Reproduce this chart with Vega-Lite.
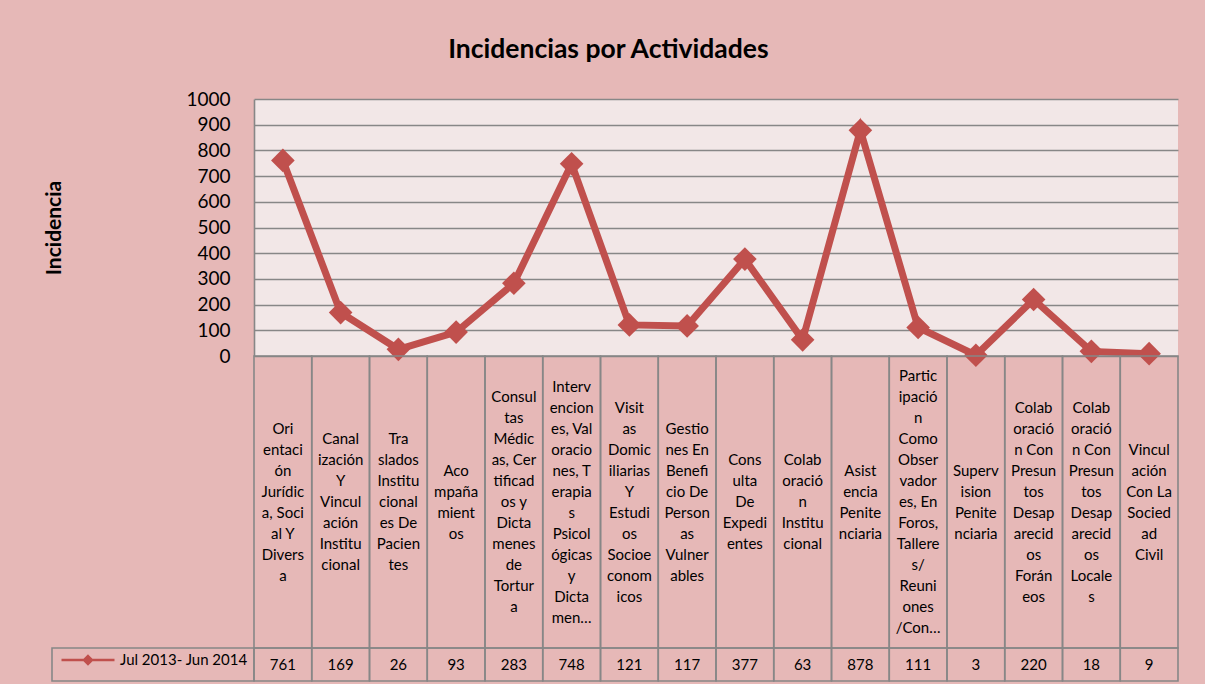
{
  "$schema": "https://vega.github.io/schema/vega-lite/v6.json",
  "background": "#E6B8B7",
  "padding": {"left": 43, "top": 36, "right": 27, "bottom": 4},
  "title": {"text": "Incidencias por Actividades", "font": "Lato", "fontSize": 26.5, "fontWeight": "bold", "color": "#000000", "anchor": "middle", "offset": 27, "dx": -3},
  "config": {
    "view": {"stroke": null},
    "font": "Lato"
  },
  "datasets": {
    "act": [
      {"actividad": "Orientación Jurídica, Social Y Diversa", "lineas": ["Ori", "entaci", "ón", "Jurídic", "a, Soci", "al Y", "Divers", "a"], "renglones": 8, "incidencia": 761, "serie": "Jul 2013- Jun 2014"},
      {"actividad": "Canalización Y Vinculación Institucional", "lineas": ["Canal", "ización", "Y", "Vincul", "ación", "Institu", "cional"], "renglones": 7, "incidencia": 169, "serie": "Jul 2013- Jun 2014"},
      {"actividad": "Traslados Institucionales De Pacientes", "lineas": ["Tra", "slados", "Institu", "cional", "es De", "Pacien", "tes"], "renglones": 7, "incidencia": 26, "serie": "Jul 2013- Jun 2014"},
      {"actividad": "Acompañamientos", "lineas": ["Aco", "mpaña", "mient", "os"], "renglones": 4, "incidencia": 93, "serie": "Jul 2013- Jun 2014"},
      {"actividad": "Consultas Médicas, Certificados y Dictamenes de Tortura", "lineas": ["Consul", "tas", "Médic", "as, Cer", "tificad", "os y", "Dicta", "menes", "de", "Tortur", "a"], "renglones": 11, "incidencia": 283, "serie": "Jul 2013- Jun 2014"},
      {"actividad": "Intervenciones, Valoraciones, Terapias Psicológicas y Dictamen…", "lineas": ["Interv", "encion", "es, Val", "oracio", "nes, T", "erapia", "s", "Psicol", "ógicas", "y", "Dicta", "men…"], "renglones": 12, "incidencia": 748, "serie": "Jul 2013- Jun 2014"},
      {"actividad": "Visitas Domiciliarias Y Estudios Socioeconomicos", "lineas": ["Visit", "as", "Domic", "iliarias", "Y", "Estudi", "os", "Socioe", "conom", "icos"], "renglones": 10, "incidencia": 121, "serie": "Jul 2013- Jun 2014"},
      {"actividad": "Gestiones En Beneficio De Personas Vulnerables", "lineas": ["Gestio", "nes En", "Benefi", "cio De", "Person", "as", "Vulner", "ables"], "renglones": 8, "incidencia": 117, "serie": "Jul 2013- Jun 2014"},
      {"actividad": "Consulta De Expedientes", "lineas": ["Cons", "ulta", "De", "Expedi", "entes"], "renglones": 5, "incidencia": 377, "serie": "Jul 2013- Jun 2014"},
      {"actividad": "Colaboración Institucional", "lineas": ["Colab", "oració", "n", "Institu", "cional"], "renglones": 5, "incidencia": 63, "serie": "Jul 2013- Jun 2014"},
      {"actividad": "Asistencia Penitenciaria", "lineas": ["Asist", "encia", "Penite", "nciaria"], "renglones": 4, "incidencia": 878, "serie": "Jul 2013- Jun 2014"},
      {"actividad": "Participación Como Observadores, En Foros, Talleres/ Reuniones /Con…", "lineas": ["Partic", "ipació", "n", "Como", "Obser", "vador", "es, En", "Foros,", "Tallere", "s/", "Reuni", "ones", "/Con…"], "renglones": 13, "incidencia": 111, "serie": "Jul 2013- Jun 2014"},
      {"actividad": "Supervision Penitenciaria", "lineas": ["Superv", "ision", "Penite", "nciaria"], "renglones": 4, "incidencia": 3, "serie": "Jul 2013- Jun 2014"},
      {"actividad": "Colaboración Con Presuntos Desaparecidos Foráneos", "lineas": ["Colab", "oració", "n Con", "Presun", "tos", "Desap", "arecid", "os", "Forán", "eos"], "renglones": 10, "incidencia": 220, "serie": "Jul 2013- Jun 2014"},
      {"actividad": "Colaboración Con Presuntos Desaparecidos Locales", "lineas": ["Colab", "oració", "n Con", "Presun", "tos", "Desap", "arecid", "os", "Locale", "s"], "renglones": 10, "incidencia": 18, "serie": "Jul 2013- Jun 2014"},
      {"actividad": "Vinculación Con La Sociedad Civil", "lineas": ["Vincul", "ación", "Con La", "Socied", "ad", "Civil"], "renglones": 6, "incidencia": 9, "serie": "Jul 2013- Jun 2014"}
    ]
  },
  "columns": 2,
  "spacing": 0,
  "bounds": "flush",
  "concat": [
    {
      "width": 202, "height": 257,
      "data": {"values": []},
      "mark": "rect"
    },
    {
      "width": 924, "height": 257,
      "data": {"name": "act"},
      "view": {"fill": "#F2E7E7", "stroke": null},
      "encoding": {
        "x": {"field": "actividad", "type": "nominal", "sort": null, "axis": null, "scale": {"type": "point", "padding": 0.5}},
        "y": {
          "field": "incidencia", "type": "quantitative",
          "scale": {"domain": [0, 1000], "nice": false, "zero": true},
          "axis": {
            "values": [0, 100, 200, 300, 400, 500, 600, 700, 800, 900, 1000],
            "format": "d",
            "title": "Incidencia",
            "titleFont": "Lato", "titleFontSize": 21, "titleFontWeight": "bold", "titleColor": "#000000",
            "titlePadding": 121,
            "labelFont": "Lato", "labelFontSize": 19, "labelColor": "#000000", "labelPadding": 24, "labelFlush": false,
            "ticks": false, "tickSize": 0,
            "grid": true, "gridColor": "#878787", "gridWidth": 1.6, "gridOpacity": 1,
            "domain": true, "domainColor": "#878787", "domainWidth": 1.6
          }
        }
      },
      "layer": [
        {
          "mark": {"type": "line", "strokeWidth": 7, "color": "#C0504D"},
          "encoding": {
            "color": {
              "field": "serie", "type": "nominal",
              "scale": {"range": ["#C0504D"]},
              "legend": {
                "title": null, "orient": "none", "legendX": 8, "legendY": 533,
                "padding": 0,
                "symbolType": "M-1,0H1M0,-0.15L0.15,0L0,0.15L-0.15,0Z",
                "symbolSize": 2809, "symbolStrokeWidth": 2.5, "symbolFillColor": "#C0504D", "symbolStrokeColor": "#C0504D",
                "labelFont": "Lato", "labelFontSize": 15, "labelColor": "#000000", "labelOffset": 4, "labelLimit": 300
              }
            }
          }
        },
        {
          "mark": {"type": "point", "shape": "diamond", "filled": true, "size": 560, "color": "#C0504D", "opacity": 1}
        }
      ]
    },
    {
      "width": 202, "height": 292,
      "data": {"values": []},
      "mark": "rect"
    },
    {
      "width": 924, "height": 292,
      "data": {"name": "act"},
      "encoding": {
        "x": {"field": "actividad", "type": "nominal", "sort": null, "axis": null, "scale": {"type": "band", "paddingInner": 0, "paddingOuter": 0}}
      },
      "layer": [
        {"mark": {"type": "rect", "fill": "transparent", "stroke": "#878787", "strokeWidth": 1.6}},
        {
          "mark": {"type": "text", "font": "Lato", "fontSize": 15, "lineHeight": 21, "baseline": "middle", "align": "center", "color": "#000000"},
          "encoding": {
            "text": {"field": "lineas", "type": "nominal"},
            "y": {"field": "renglones", "type": "quantitative", "axis": null, "scale": {"domain": [1, 13], "range": [146, 20], "zero": false, "nice": false}}
          }
        }
      ]
    },
    {
      "width": 202, "height": 33,
      "data": {"values": []},
      "mark": "rect",
      "view": {"stroke": "#878787", "strokeWidth": 1.6}
    },
    {
      "width": 924, "height": 33,
      "data": {"name": "act"},
      "encoding": {
        "x": {"field": "actividad", "type": "nominal", "sort": null, "axis": null, "scale": {"type": "band", "paddingInner": 0, "paddingOuter": 0}}
      },
      "layer": [
        {"mark": {"type": "rect", "fill": "transparent", "stroke": "#878787", "strokeWidth": 1.6}},
        {
          "mark": {"type": "text", "font": "Lato", "fontSize": 15, "baseline": "middle", "align": "center", "color": "#000000"},
          "encoding": {"text": {"field": "incidencia", "type": "quantitative"}}
        }
      ]
    }
  ]
}
